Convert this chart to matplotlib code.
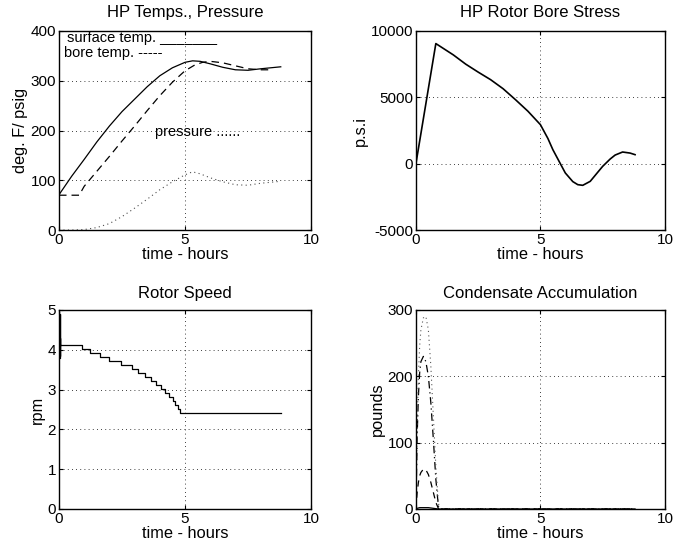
import numpy as np
import matplotlib.pyplot as plt

plt.rcParams['font.family'] = ['Liberation Sans', 'DejaVu Sans']
plt.rcParams['font.size'] = 12
plt.rcParams['axes.unicode_minus'] = False

# HP temperatures / pressure (time in hours)
t_surf = [0, 0.5, 1, 1.5, 2, 2.5, 3, 3.5, 4, 4.5, 5, 5.3, 5.6, 6, 6.5, 7, 7.5, 8, 8.4, 8.8]
surf_temp = [71, 108, 142, 177, 209, 238, 263, 288, 310, 326, 337, 340, 339, 334, 327, 322, 321, 324, 326, 328]
t_bore = [0, 0.8, 1, 1.5, 2, 2.5, 3, 3.5, 4, 4.5, 5, 5.4, 5.7, 6, 6.5, 7, 7.5, 8, 8.5]
bore_temp = [70, 70, 88, 118, 148, 179, 209, 240, 270, 297, 320, 332, 337, 339, 336, 330, 324, 322, 322]
t_press = [0, 0.5, 1, 1.5, 2, 2.5, 3, 3.5, 4, 4.5, 5, 5.3, 5.6, 6, 6.5, 7, 7.5, 8, 8.4, 8.8]
pressure = [0, 0, 1, 5, 13, 27, 44, 62, 81, 97, 111, 117, 113, 105, 97, 91, 90, 94, 96, 98]

# HP rotor bore stress
t_stress = [0, 0.8, 1.5, 2, 2.5, 3, 3.5, 4, 4.5, 5, 5.3, 5.5, 5.8, 6, 6.3, 6.5, 6.7, 7, 7.3, 7.5, 7.8, 8, 8.3, 8.6, 8.8]
stress = [0, 9050, 8200, 7500, 6900, 6330, 5650, 4820, 3950, 2940, 1900, 1055, 0, -700, -1350, -1580, -1630, -1330, -650, -200, 350, 650, 880, 800, 680]

# Rotor speed (stepped)
t_speed = [0, 0.01, 0.02, 0.03, 0.04, 0.05, 0.90, 1.235, 1.61, 1.99, 2.44, 2.90, 3.13, 3.40, 3.65,
           3.85, 4.06, 4.22, 4.38, 4.51, 4.62, 4.73, 4.81, 8.8]
speed = [4.95, 3.8, 4.9, 3.85, 4.3, 4.12, 4.01, 3.91, 3.81, 3.71, 3.61, 3.51, 3.41, 3.31, 3.21,
         3.11, 3.01, 2.91, 2.81, 2.71, 2.61, 2.51, 2.40, 2.40]

# Condensate accumulation
t_cond = [0, 0.05, 0.1, 0.15, 0.2, 0.3, 0.4, 0.5, 0.6, 0.7, 0.8, 0.9, 0.95, 8.8]
cond_dot = [0, 120, 200, 245, 270, 288, 290, 270, 215, 140, 65, 10, 0, 0]
cond_dashdot = [0, 110, 170, 205, 222, 230, 222, 200, 160, 105, 45, 5, 0, 0]
cond_dash = [0, 25, 40, 50, 55, 60, 59, 52, 40, 25, 10, 1, 0, 0]
cond_solid = [0, 1, 1.5, 2, 2, 2, 2, 2, 1.5, 1, 0.5, 0, 0, 0]

fig = plt.figure(figsize=(6.73, 5.53), dpi=100)
ax1 = fig.add_axes([0.0877, 0.584, 0.3744, 0.36])
ax2 = fig.add_axes([0.618, 0.584, 0.370, 0.36])
ax3 = fig.add_axes([0.0877, 0.0796, 0.3744, 0.36])
ax4 = fig.add_axes([0.618, 0.0796, 0.370, 0.36])


def style(ax, title, ylabel, ylim, yticks, tpad):
    ax.set_xlim(0, 10)
    ax.set_xticks([0, 5, 10])
    ax.set_ylim(*ylim)
    ax.set_yticks(yticks)
    ax.grid(True, linestyle=(0, (1, 4)), color='k', linewidth=0.6)
    ax.tick_params(direction='in', length=3, pad=2, top=True, right=True, labelsize=11)
    ax.set_title(title, fontsize=12, pad=tpad)
    ax.set_xlabel('time - hours', fontsize=11.8, labelpad=0)
    ax.set_ylabel(ylabel, fontsize=11.8, labelpad=2)
    for s in ax.spines.values():
        s.set_linewidth(1.0)


ax1.plot(t_surf, surf_temp, 'k-', linewidth=0.9)
ax1.plot(t_bore, bore_temp, 'k', linestyle=(0, (6, 4)), linewidth=0.9)
ax1.plot(t_press, pressure, color='0.3', linestyle=(0, (1, 3)), linewidth=0.8)
ax1.text(0.32, 386, 'surface temp. _______', va='center', fontsize=10.5)
ax1.text(0.2, 356, 'bore temp. -----', va='center', fontsize=10.5)
ax1.text(3.8, 198, 'pressure ......', va='center', fontsize=10.5)
style(ax1, 'HP Temps., Pressure', 'deg. F/ psig', (0, 400), [0, 100, 200, 300, 400], 10)

ax2.plot(t_stress, stress, 'k-', linewidth=1.2)
style(ax2, 'HP Rotor Bore Stress', 'p.s.i', (-5000, 10000), [-5000, 0, 5000, 10000], 10)

ax3.step(t_speed, speed, where='post', color='k', linewidth=0.9)
style(ax3, 'Rotor Speed', 'rpm', (0, 5), [0, 1, 2, 3, 4, 5], 8.5)

ax4.plot(t_cond, cond_solid, 'k-', linewidth=0.9)
ax4.plot(t_cond, cond_dash, 'k', linestyle=(0, (5, 4)), linewidth=0.9)
ax4.plot(t_cond, cond_dashdot, 'k', linestyle=(0, (6, 3, 1, 3)), linewidth=0.9)
ax4.plot(t_cond, cond_dot, color='0.35', linestyle=(0, (1, 3)), linewidth=0.8)
style(ax4, 'Condensate Accumulation', 'pounds', (0, 300), [0, 100, 200, 300], 8.5)

fig.savefig('out.png', dpi=100)
